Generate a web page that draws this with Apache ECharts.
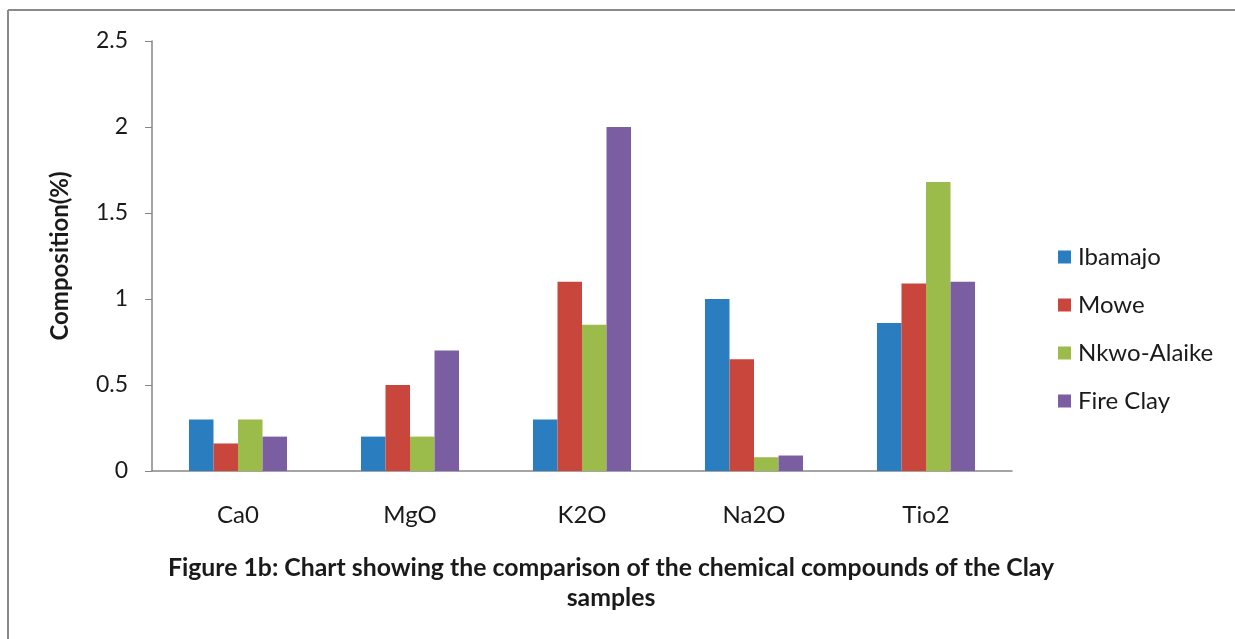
<!DOCTYPE html>
<html>
<head>
<meta charset="utf-8">
<script src="https://cdn.jsdelivr.net/npm/echarts@6/dist/echarts.min.js"></script>
<style>
html,body{margin:0;padding:0;background:#fff;}
#chart{width:1235px;height:639px;}
</style>
</head>
<body>
<div id="chart"></div>
<script>
const categories = ['Ca0', 'MgO', 'K2O', 'Na2O', 'Tio2'];
const ibamajo = [0.3, 0.2, 0.3, 1.0, 0.86];
const mowe = [0.16, 0.5, 1.1, 0.65, 1.09];
const nkwoAlaike = [0.3, 0.2, 0.85, 0.08, 1.68];
const fireClay = [0.2, 0.7, 2.0, 0.09, 1.1];
const seriesNames = ['Ibamajo', 'Mowe', 'Nkwo-Alaike', 'Fire Clay'];
const colors = ['#2A7EBF', '#C9463D', '#9BBB4B', '#7B5EA1'];
const yAxisName = 'Composition(%)';
const caption = 'Figure 1b: Chart showing the comparison of the chemical compounds of the Clay\nsamples';

const font = 'Lato, "Open Sans", sans-serif';
const chart = echarts.init(document.getElementById('chart'), null, {renderer: 'canvas'});
const data = [ibamajo, mowe, nkwoAlaike, fireClay];
chart.setOption({
  animation: false,
  backgroundColor: '#fff',
  color: colors,
  textStyle: {fontFamily: font},
  title: {
    text: caption,
    left: 606,
    top: 548,
    textAlign: 'center',
    textStyle: {fontFamily: font, fontWeight: 'bold', fontSize: 24.8, color: '#1a1a1a', lineHeight: 30}
  },
  legend: {
    orient: 'vertical',
    left: 1053,
    top: 240,
    itemWidth: 13,
    itemHeight: 13,
    itemGap: 24,
    icon: 'rect',
    data: seriesNames,
    textStyle: {fontFamily: font, fontSize: 24, color: '#1a1a1a', padding: [0, 0, 0, 2], lineHeight: 24}
  },
  grid: {left: 152, right: 223, top: 41, bottom: 168, containLabel: false},
  xAxis: {
    type: 'category',
    data: categories,
    axisLine: {lineStyle: {color: '#868686', width: 1.5}},
    axisTick: {show: false},
    axisLabel: {fontFamily: font, fontSize: 24, color: '#1a1a1a', margin: 32}
  },
  yAxis: {
    type: 'value',
    min: 0,
    max: 2.5,
    interval: 0.5,
    name: yAxisName,
    nameLocation: 'middle',
    nameRotate: 90,
    nameGap: 80,
    nameTextStyle: {fontFamily: font, fontWeight: 'bold', fontSize: 24, color: '#1a1a1a'},
    axisLine: {show: true, lineStyle: {color: '#868686', width: 1.5}},
    axisTick: {show: true, length: 7, lineStyle: {color: '#868686'}},
    splitLine: {show: false},
    axisLabel: {fontFamily: font, fontSize: 23, color: '#1a1a1a', margin: 24}
  },
  graphic: [
    {type: 'line', shape: {x1: 8, y1: 10, x2: 1235, y2: 10}, style: {stroke: '#8a8a8a', lineWidth: 2}},
    {type: 'line', shape: {x1: 8, y1: 10, x2: 8, y2: 639}, style: {stroke: '#8a8a8a', lineWidth: 2}}
  ],
  series: seriesNames.map((n, i) => ({
    name: n,
    type: 'bar',
    data: data[i],
    barGap: '0%',
    barCategoryGap: '43%',
    itemStyle: {color: colors[i]}
  }))
});
</script>
</body>
</html>
